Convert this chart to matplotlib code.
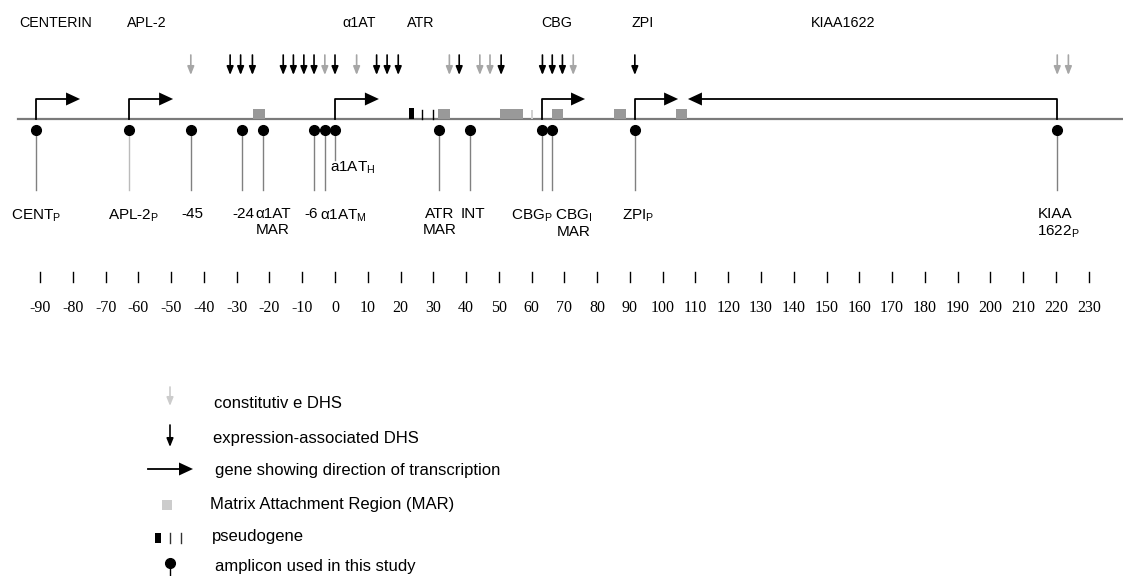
import matplotlib
matplotlib.use("Agg")
import matplotlib.pyplot as plt

plt.rcParams['font.family'] = ['Liberation Sans', 'DejaVu Sans']

# ---- data (positions in kb, 0 = alpha1AT transcription start) ----
gene_names = ['CENTERIN', 'APL-2', 'α1AT', 'ATR', 'CBG', 'ZPI', 'KIAA1622']
gene_name_pos = [-85.4, -57.4, 7.3, 26.2, 67.7, 94.0, 155.0]

# transcribed genes: start, end of arrow
gene_start = [-91.2, -62.9, 0.0, 63.3, 91.5, 220.3]
gene_end = [-77.8, -49.4, 13.4, 76.3, 104.7, 107.7]

# DNase I hypersensitive sites
dhs_const = [-44.0, -3.1, 6.6, 34.9, 44.2, 47.3, 72.7, 220.4, 223.8]
dhs_expr = [-32.0, -28.8, -25.2, -15.8, -12.7, -9.5, -6.4, 0.0,
            12.7, 15.9, 19.3, 37.9, 50.7, 63.3, 66.3, 69.4, 91.5]

# matrix attachment regions (start, end)
mar_start = [-25.0, 31.4, 50.4, 66.2, 85.1, 104.1]
mar_end = [-21.4, 35.1, 57.4, 69.6, 88.8, 107.4]
mar_faint = [59.8]

# pseudogene
pseudo_block = [22.6, 24.1]
pseudo_lines = [26.5, 30.0]

# amplicons
amp_pos = [-91.2, -62.9, -44.0, -28.3, -21.9, -6.3, -3.1, 0.0,
           31.7, 41.2, 63.3, 66.1, 91.5, 220.4]
amp_labels = [r'CENT$_\mathregular{P}$', r'APL-2$_\mathregular{P}$', '-45', '-24',
              'α1AT\nMAR', '-6', r'α1AT$_\mathregular{M}$', r'a1AT$_\mathregular{H}$',
              'ATR\nMAR', 'INT', r'CBG$_\mathregular{P}$', 'CBG$_\\mathregular{I}$\nMAR',
              r'ZPI$_\mathregular{P}$', 'KIAA\n' + r'1622$_\mathregular{P}$']

scale_ticks = list(range(-90, 231, 10))

# ---- layout ----
PX = 3.277          # pixels per kb
X0 = 335            # pixel of kb 0
W, H = 1123, 576
BASE_Y = 119

fig = plt.figure(figsize=(W / 100, H / 100), dpi=100)
ax = fig.add_axes([0, 0, 1, 1])
ax.set_xlim(-X0 / PX, (W - X0) / PX)
ax.set_ylim(H, 0)
ax.axis('off')

# gene names
for name, x in zip(gene_names, gene_name_pos):
    ax.text(x, 23, name, ha='center', va='center', fontsize=10.3)

# chromosome line
ax.plot([(18 - X0) / PX, (W - X0) / PX], [BASE_Y, BASE_Y], color='#7a7a7a', lw=1.6, zorder=1)

# MARs
for s, e in zip(mar_start, mar_end):
    ax.fill([s, e, e, s], [BASE_Y, BASE_Y, 109, 109], color='#999999', lw=0, zorder=2)
for s in mar_faint:
    ax.fill([s, s + 0.6, s + 0.6, s], [BASE_Y, BASE_Y, 110, 110], color='#d0d0d0', lw=0, zorder=2)

# pseudogene
ax.fill([pseudo_block[0], pseudo_block[1], pseudo_block[1], pseudo_block[0]],
        [BASE_Y, BASE_Y, 108, 108], color='black', lw=0, zorder=3)
for x in pseudo_lines:
    ax.plot([x, x], [BASE_Y, 110], color='black', lw=1.0, zorder=3)

# gene arrows
head_len = 14 / PX
for s, e in zip(gene_start, gene_end):
    d = 1 if e > s else -1
    ax.plot([s, s, e - d * head_len], [BASE_Y, 99, 99], color='black', lw=1.3, zorder=3)
    ax.fill([e, e - d * head_len, e - d * head_len], [99, 92.5, 105.5], color='black', lw=0, zorder=3)

# DHS arrows
def dhs(axis, x, y0, y1, color):
    axis.annotate('', xy=(x, y1), xytext=(x, y0),
                  arrowprops=dict(arrowstyle='-|>,head_length=0.5,head_width=0.2',
                                  color=color, lw=1.2, shrinkA=0, shrinkB=0,
                                  mutation_scale=10))

for x in dhs_const:
    dhs(ax, x, 55, 75, '#a6a6a6')
for x in dhs_expr:
    dhs(ax, x, 55, 75, 'black')

# amplicons
label_style = {
    0: ('center', 0), 1: ('center', 5), 2: ('center', 2), 3: ('center', 1),
    4: ('left', -8), 5: ('center', -3), 6: ('left', -5), 7: ('left', -5),
    8: ('center', 1), 9: ('center', 3), 10: ('right', 10), 11: ('left', 3),
    12: ('center', 3), 13: ('left', -20),
}
for i, (x, lab) in enumerate(zip(amp_pos, amp_labels)):
    short = i == 7
    stem_end = 160 if short else 190
    stem_col = '#bbbbbb' if i == 1 else '#808080'
    ax.plot([x, x], [130, stem_end], color=stem_col, lw=1.0, zorder=2)
    ax.plot(x, 130, 'o', color='black', ms=7, zorder=4)
    ha, dx = label_style[i]
    ly = 168 if short else 207
    ax.text(x + dx / PX, ly, lab, ha=ha, va='center' if short else 'top',
            fontsize=11, linespacing=1.15, multialignment='center' if i != 13 else 'left')

# scale bar
for t in scale_ticks:
    ax.plot([t, t], [272, 282], color='black', lw=1.0)
    ax.text(t, 308, str(t), ha='center', va='center', fontsize=11.5,
            family='Liberation Serif')

# ---- legend (pixel coordinates) ----
lg = fig.add_axes([0, 0, 1, 1])
lg.set_xlim(0, W)
lg.set_ylim(H, 0)
lg.axis('off')
lg.patch.set_alpha(0)

fs = 12
dhs(lg, 170, 387, 406, '#cccccc')
lg.text(214, 404, 'constitutiv e DHS', va='center', fontsize=fs)
dhs(lg, 170, 425, 447, 'black')
lg.text(213, 438, 'expression-associated DHS', va='center', fontsize=fs)
lg.plot([148, 180], [469, 469], color='black', lw=1.3)
lg.fill([193, 179, 179], [469, 462.5, 475.5], color='black', lw=0)
lg.text(215, 470, 'gene showing direction of transcription', va='center', fontsize=fs)
lg.fill([162, 172, 172, 162], [500, 500, 510, 510], color='#cccccc', lw=0)
lg.text(210, 505, 'Matrix Attachment Region (MAR)', va='center', fontsize=fs)
lg.fill([155, 161, 161, 155], [533, 533, 543, 543], color='black', lw=0)
for x in (170, 180.7):
    lg.plot([x, x], [533, 543], color='#333333', lw=1.0)
lg.text(212, 537, 'pseudogene', va='center', fontsize=fs)
lg.plot([170, 170], [563, 575], color='black', lw=1.0)
lg.plot(170, 563, 'o', color='black', ms=7)
lg.text(215, 567, 'amplicon used in this study', va='center', fontsize=fs)

fig.savefig('out.png', dpi=100)
